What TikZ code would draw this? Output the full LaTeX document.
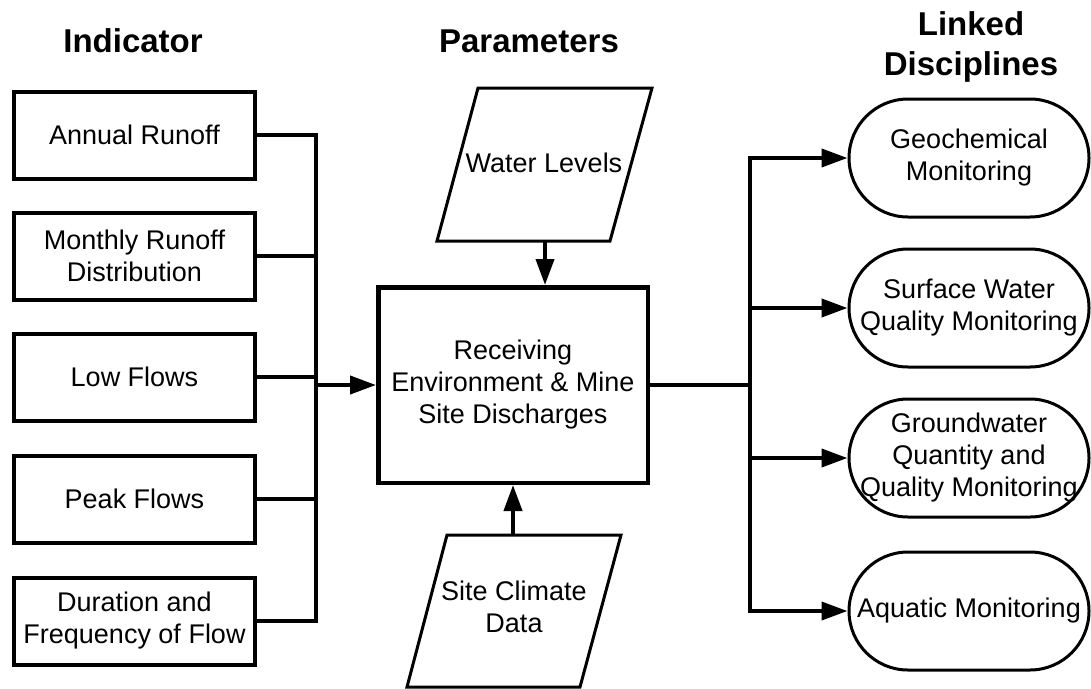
\documentclass[tikz,border=0pt]{standalone}
\usepackage{fontspec}
\setmainfont{Liberation Sans}
\usetikzlibrary{arrows.meta}
\usetikzlibrary{calc}

\begin{document}
\begin{tikzpicture}[x=1pt,y=-1pt,
    font=\fontsize{27}{32}\selectfont,
    hdr/.style={font=\fontsize{33}{40}\selectfont\bfseries, inner sep=0pt},
    indbox/.style={draw, line width=4pt, minimum width=241pt, minimum height=87pt, align=center, inner sep=0pt},
    mainbox/.style={draw, line width=4.5pt, minimum width=269.5pt, minimum height=195.5pt, align=center, inner sep=0pt},
    discbox/.style={draw, line width=3pt, rounded corners=59pt, minimum width=240pt, minimum height=118pt, align=center, inner sep=0pt},
    para/.style={draw, line width=3pt, line join=miter},
    conn/.style={line width=4pt},
    arr/.style={line width=4pt, -{Triangle[length=26pt,width=18pt]}}]

    \useasboundingbox (0,0) rectangle (1091,688);

    \node[hdr, anchor=base] (hindicator) at (133,52) {Indicator};
    \node[hdr, anchor=base] (hparams) at (529,52) {Parameters};
    \node[hdr, anchor=base] (hlinked) at (971,35) {Linked};
    \node[hdr, anchor=base] (hdisc) at (971,75) {Disciplines};

    \node[indbox] (annual) at (134.5,135) {Annual Runoff};
    \node[indbox] (monthly) at (134.5,256) {Monthly Runoff\\Distribution};
    \node[indbox] (low) at (134.5,377) {Low Flows};
    \node[indbox] (peak) at (134.5,499) {Peak Flows};
    \node[indbox] (duration) at (134.5,621) {Duration and\\Frequency of Flow};

    \node[mainbox] (recv) at (513,385) {Receiving\\Environment \& Mine\\Site Discharges};

    \draw[para] (478,88) -- (652,88) -- (610,241) -- (437,241) -- cycle;
    \node (water) at (544,163) {Water Levels};
    \coordinate (waterbot) at (545,241);

    \draw[para] (447,535) -- (621,535) -- (580,687) -- (407,687) -- cycle;
    \node[align=center] (climate) at (514,607) {Site Climate\\Data};
    \coordinate (climatetop) at (513,535);

    \node[discbox] (geo) at (969,158) {Geochemical\\Monitoring};
    \node[discbox] (surface) at (969,308) {Surface Water\\Quality Monitoring};
    \node[discbox] (ground) at (969,458) {Groundwater\\Quantity and\\Quality Monitoring};
    \node[discbox] (aquatic) at (969,611) {Aquatic Monitoring};

    \coordinate (lbus) at (316,385);
    \draw[conn] (annual.east) -| (lbus);
    \draw[conn] (duration.east) -| (lbus);
    \foreach \n in {monthly,low,peak}
      \draw[conn] (\n.east) -- (\n.east -| lbus);
    \draw[arr] (lbus) -- (recv.west);

    \draw[arr] (waterbot) -- (waterbot |- recv.north);
    \draw[arr] (climatetop) -- (climatetop |- recv.south);

    \coordinate (rbus) at (750,385);
    \draw[conn] (recv.east) -- (rbus);
    \draw[arr] (rbus) |- (geo.west);
    \draw[arr] (rbus) |- (aquatic.west);
    \foreach \n in {surface,ground}
      \draw[arr] (rbus |- \n.west) -- (\n.west);
  \end{tikzpicture}
\end{document}
